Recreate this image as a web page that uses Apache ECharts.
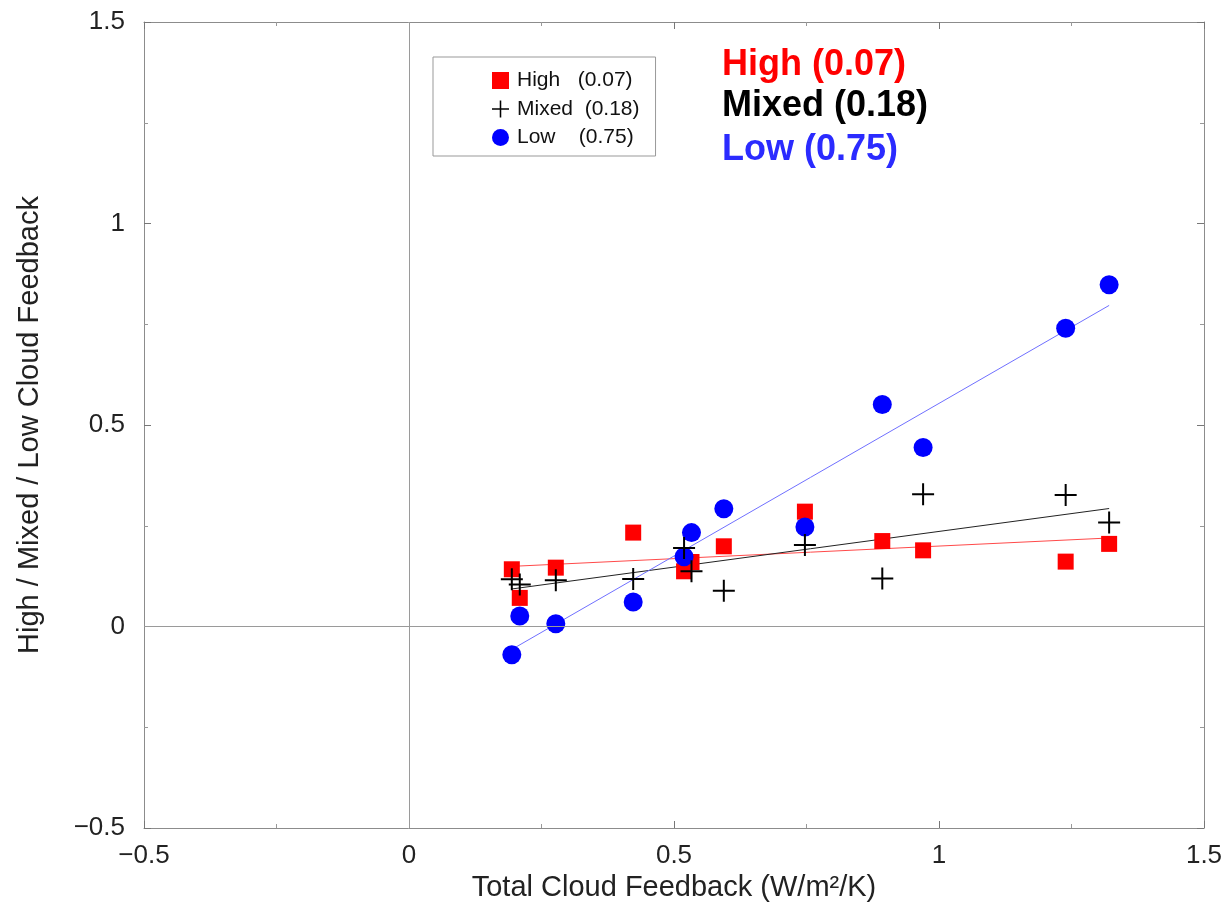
<!DOCTYPE html>
<html>
<head>
<meta charset="utf-8">
<script src="https://cdn.jsdelivr.net/npm/echarts@6/dist/echarts.min.js"></script>
<style>
  html, body { margin: 0; padding: 0; background: #fff; }
  #main { width: 1226px; height: 908px; }
</style>
</head>
<body>
<div id="main"></div>
<script>
// values, one per model
var totalFeedback = [0.194, 0.209, 0.277, 0.423, 0.519, 0.533, 0.594, 0.747, 0.893, 0.970, 1.239, 1.321];
var highCloud  = [0.142, 0.071, 0.146, 0.233, 0.137, 0.160, 0.199, 0.285, 0.212, 0.189, 0.161, 0.205];
var mixedCloud = [0.117, 0.104, 0.115, 0.118, 0.195, 0.137, 0.089, 0.202, 0.119, 0.328, 0.326, 0.258];
var lowCloud   = [-0.070, 0.026, 0.007, 0.061, 0.173, 0.233, 0.292, 0.247, 0.551, 0.444, 0.740, 0.848];
var seriesNames = ['High   (0.07)', 'Mixed  (0.18)', 'Low    (0.75)'];
var noteLabels = ['High (0.07)', 'Mixed (0.18)', 'Low (0.75)'];
var xTicks = [-0.5, 0, 0.5, 1, 1.5];
var yTicks = [-0.5, 0, 0.5, 1, 1.5];

var FONT = '"Liberation Sans", Arial, Helvetica, sans-serif';
var PLUS = 'path://M10,0 H12 V10 H22 V12 H12 V22 H10 V12 H0 V10 H10 Z';

function pairs(ys) {
  return totalFeedback.map(function (x, i) { return [x, ys[i]]; });
}
// least squares fit, drawn between smallest and largest x
function fitLine(ys) {
  var n = totalFeedback.length, sx = 0, sy = 0, sxx = 0, sxy = 0;
  for (var i = 0; i < n; i++) {
    sx += totalFeedback[i]; sy += ys[i];
    sxx += totalFeedback[i] * totalFeedback[i]; sxy += totalFeedback[i] * ys[i];
  }
  var b = (n * sxy - sx * sy) / (n * sxx - sx * sx);
  var a = (sy - b * sx) / n;
  var x0 = Math.min.apply(null, totalFeedback), x1 = Math.max.apply(null, totalFeedback);
  return [[x0, a + b * x0], [x1, a + b * x1]];
}
function fmt(v) {
  return v < 0 ? '\u2212' + Math.abs(v) : String(v);
}

var myChart = echarts.init(document.getElementById('main'));

var axisLine = { show: true, onZero: false, lineStyle: { color: '#8c8c8c', width: 1 } };
var tick = { show: true, inside: true, length: 7, lineStyle: { color: '#777' } };
var minor = { show: true, splitNumber: 2, length: 4, lineStyle: { color: '#999' } };

var option = {
  backgroundColor: '#fff',
  animation: false,
  textStyle: { fontFamily: FONT },
  grid: { left: 144, right: 22, top: 22, bottom: 80 },
  legend: {
    data: seriesNames,
    orient: 'vertical',
    left: 433,
    top: 57,
    backgroundColor: '#fff',
    borderColor: '#999',
    borderWidth: 1,
    borderRadius: 0,
    padding: [13, 16, 8, 59],
    itemWidth: 17,
    itemHeight: 17,
    itemGap: 7.5,
    textStyle: { fontSize: 21, color: '#111', fontFamily: FONT, padding: [0, 0, 0, 3] }
  },
  xAxis: [{
    type: 'value', min: xTicks[0], max: xTicks[xTicks.length - 1], interval: 0.5,
    position: 'bottom',
    axisLine: axisLine, axisTick: tick, minorTick: minor, splitLine: { show: false },
    axisLabel: { fontSize: 26, color: '#222', margin: 15, formatter: fmt },
    name: 'Total Cloud Feedback (W/m\u00b2/K)',
    nameLocation: 'middle', nameGap: 43,
    nameTextStyle: { fontSize: 29, color: '#222' }
  }, {
    type: 'value', min: xTicks[0], max: xTicks[xTicks.length - 1], interval: 0.5,
    position: 'top',
    axisLine: axisLine, axisTick: tick, minorTick: minor, splitLine: { show: false },
    axisLabel: { show: false }
  }],
  yAxis: [{
    type: 'value', min: yTicks[0], max: yTicks[yTicks.length - 1], interval: 0.5,
    position: 'left',
    axisLine: axisLine, axisTick: tick, minorTick: minor, splitLine: { show: false },
    axisLabel: { fontSize: 26, color: '#222', margin: 19, formatter: fmt },
    name: 'High / Mixed / Low Cloud Feedback',
    nameLocation: 'middle', nameGap: 100,
    nameTextStyle: { fontSize: 29, color: '#222' }
  }, {
    type: 'value', min: yTicks[0], max: yTicks[yTicks.length - 1], interval: 0.5,
    position: 'right',
    axisLine: axisLine, axisTick: tick, minorTick: minor, splitLine: { show: false },
    axisLabel: { show: false }
  }],
  graphic: [
    { type: 'text', left: 722, top: 47, style: { text: noteLabels[0], fill: '#ff0000', font: 'bold 36px ' + FONT } },
    { type: 'text', left: 722, top: 88, style: { text: noteLabels[1], fill: '#000', font: 'bold 36px ' + FONT } },
    { type: 'text', left: 722, top: 132, style: { text: noteLabels[2], fill: '#2b2bff', font: 'bold 36px ' + FONT } }
  ],
  series: [
    {
      name: 'zero', type: 'line', data: [], silent: true, z: 1,
      markLine: {
        silent: true, symbol: 'none', label: { show: false },
        lineStyle: { color: '#9a9a9a', width: 1, type: 'solid' },
        data: [{ xAxis: 0 }, { yAxis: 0 }]
      }
    },
    { name: 'fitHigh', type: 'line', data: fitLine(highCloud), symbol: 'none', silent: true, z: 2,
      lineStyle: { color: '#ff4a4a', width: 1 } },
    { name: 'fitMixed', type: 'line', data: fitLine(mixedCloud), symbol: 'none', silent: true, z: 2,
      lineStyle: { color: '#222', width: 1 } },
    { name: 'fitLow', type: 'line', data: fitLine(lowCloud), symbol: 'none', silent: true, z: 2,
      lineStyle: { color: '#7070ff', width: 1 } },
    { name: seriesNames[0], type: 'scatter', data: pairs(highCloud), symbol: 'rect', symbolSize: 16, z: 3,
      itemStyle: { color: '#ff0000', opacity: 1 } },
    { name: seriesNames[2], type: 'scatter', data: pairs(lowCloud), symbol: 'circle', symbolSize: 19, z: 4,
      itemStyle: { color: '#0000ff', opacity: 1 } },
    { name: seriesNames[1], type: 'scatter', data: pairs(mixedCloud), symbol: PLUS, symbolSize: 22, z: 5,
      itemStyle: { color: '#000', opacity: 1 } }
  ]
};

myChart.setOption(option);
</script>
</body>
</html>
